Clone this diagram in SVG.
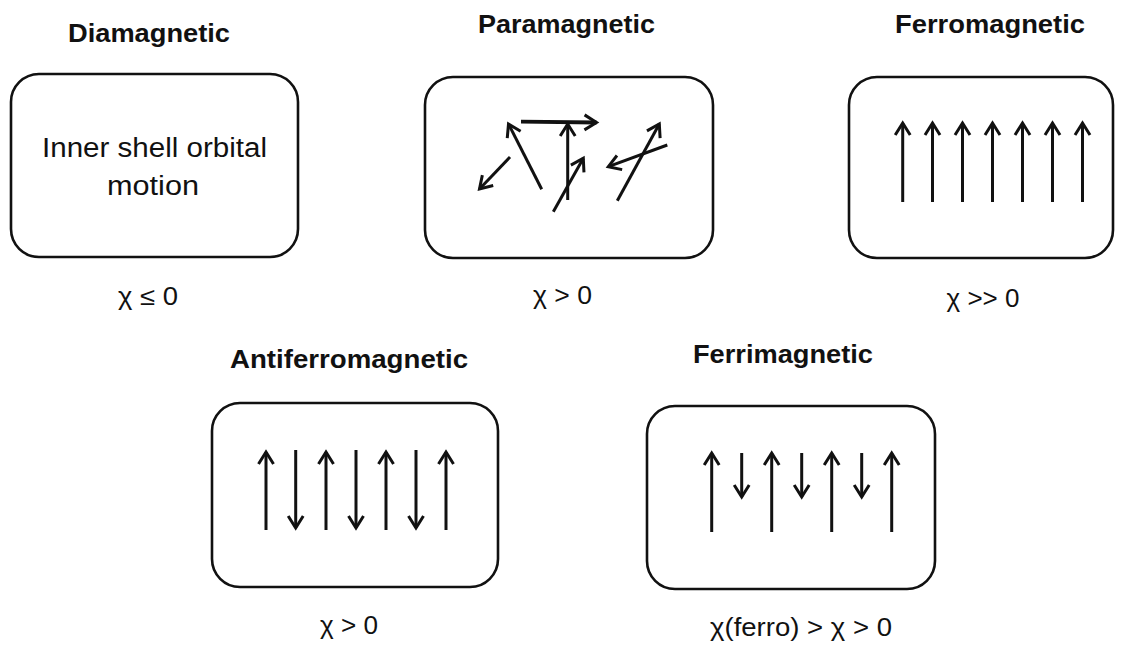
<svg xmlns="http://www.w3.org/2000/svg" width="1126" height="646" viewBox="0 0 1126 646">
<style>
.box{fill:#fff;stroke:#111;stroke-width:2.6}
.t{font-family:"Liberation Sans",Arial,sans-serif;font-weight:bold;font-size:25px;fill:#111;text-anchor:middle}
.l{font-family:"Liberation Sans",Arial,sans-serif;font-size:27px;fill:#111;text-anchor:middle}
.c{font-family:"Liberation Sans",Arial,sans-serif;font-size:25px;fill:#111;text-anchor:middle}
.a{stroke:#111;stroke-width:3;fill:none}
</style>
<defs>
<marker id="h" viewBox="-16 -10 20 20" refX="0" refY="0" markerWidth="20" markerHeight="20" markerUnits="userSpaceOnUse" orient="auto">
<path d="M-12,-7.5 L0,0 L-12,7.5" fill="none" stroke="#111" stroke-width="3"/>
</marker>
</defs>
<rect width="1126" height="646" fill="#fff"/>
<g id="diamagnetic">
<text class="t" x="149" y="42" textLength="162" lengthAdjust="spacingAndGlyphs">Diamagnetic</text>
<rect class="box" x="11" y="74" width="287" height="183" rx="28"/>
<text class="l" x="154.5" y="157" textLength="225" lengthAdjust="spacingAndGlyphs">Inner shell orbital</text>
<text class="l" x="153" y="195" textLength="92" lengthAdjust="spacingAndGlyphs">motion</text>
<text class="c" x="148" y="305" textLength="60" lengthAdjust="spacingAndGlyphs">χ ≤ 0</text>
</g>
<g id="paramagnetic">
<text class="t" x="566.5" y="33" textLength="177" lengthAdjust="spacingAndGlyphs">Paramagnetic</text>
<rect class="box" x="425" y="77" width="288" height="181" rx="28"/>
<g class="a" marker-end="url(#h)">
<line x1="510" y1="157" x2="479.5" y2="189"/>
<line x1="541.7" y1="189.3" x2="508.5" y2="124"/>
<line x1="521" y1="121.7" x2="596.5" y2="122.5" stroke-width="3.8"/>
<line x1="567.7" y1="200" x2="567.7" y2="124"/>
<line x1="553.3" y1="211.7" x2="583.3" y2="158.3"/>
<line x1="667.3" y1="145" x2="608.3" y2="166.7"/>
<line x1="617.3" y1="200.7" x2="659.3" y2="124"/>
</g>
<text class="c" x="562.5" y="304" textLength="59" lengthAdjust="spacingAndGlyphs">χ &gt; 0</text>
</g>
<g id="ferromagnetic">
<text class="t" x="990" y="33" textLength="190" lengthAdjust="spacingAndGlyphs">Ferromagnetic</text>
<rect class="box" x="849" y="77" width="264" height="181" rx="28"/>
<g class="a" marker-end="url(#h)">
<line x1="902.7" y1="202" x2="902.7" y2="123"/>
<line x1="932.5" y1="202" x2="932.5" y2="123"/>
<line x1="962.5" y1="202" x2="962.5" y2="123"/>
<line x1="992.5" y1="202" x2="992.5" y2="123"/>
<line x1="1022.5" y1="202" x2="1022.5" y2="123"/>
<line x1="1052.5" y1="202" x2="1052.5" y2="123"/>
<line x1="1082.5" y1="202" x2="1082.5" y2="123"/>
</g>
<text class="c" x="983" y="307" textLength="73" lengthAdjust="spacingAndGlyphs">χ &gt;&gt; 0</text>
</g>
<g id="antiferromagnetic">
<text class="t" x="349" y="368" textLength="238" lengthAdjust="spacingAndGlyphs">Antiferromagnetic</text>
<rect class="box" x="212" y="403" width="286" height="184" rx="28"/>
<g class="a" marker-end="url(#h)">
<line x1="266" y1="530" x2="266" y2="452"/>
<line x1="295.7" y1="450" x2="295.7" y2="528"/>
<line x1="326" y1="530" x2="326" y2="452"/>
<line x1="356" y1="450" x2="356" y2="528"/>
<line x1="386" y1="530" x2="386" y2="452"/>
<line x1="416" y1="450" x2="416" y2="528"/>
<line x1="446" y1="530" x2="446" y2="452"/>
</g>
<text class="c" x="349" y="634" textLength="58" lengthAdjust="spacingAndGlyphs">χ &gt; 0</text>
</g>
<g id="ferrimagnetic">
<text class="t" x="783" y="363" textLength="180" lengthAdjust="spacingAndGlyphs">Ferrimagnetic</text>
<rect class="box" x="647" y="406" width="288" height="183" rx="28"/>
<g class="a" marker-end="url(#h)">
<line x1="711.7" y1="532" x2="711.7" y2="453"/>
<line x1="741.7" y1="453" x2="741.7" y2="497"/>
<line x1="771.7" y1="532" x2="771.7" y2="453"/>
<line x1="801.7" y1="453" x2="801.7" y2="497"/>
<line x1="831.7" y1="532" x2="831.7" y2="453"/>
<line x1="861.7" y1="453" x2="861.7" y2="497"/>
<line x1="891.7" y1="532" x2="891.7" y2="453"/>
</g>
<text class="c" x="801" y="636" textLength="182" lengthAdjust="spacingAndGlyphs">χ(ferro) &gt; χ &gt; 0</text>
</g>
<g id="connectors"/>
</svg>
